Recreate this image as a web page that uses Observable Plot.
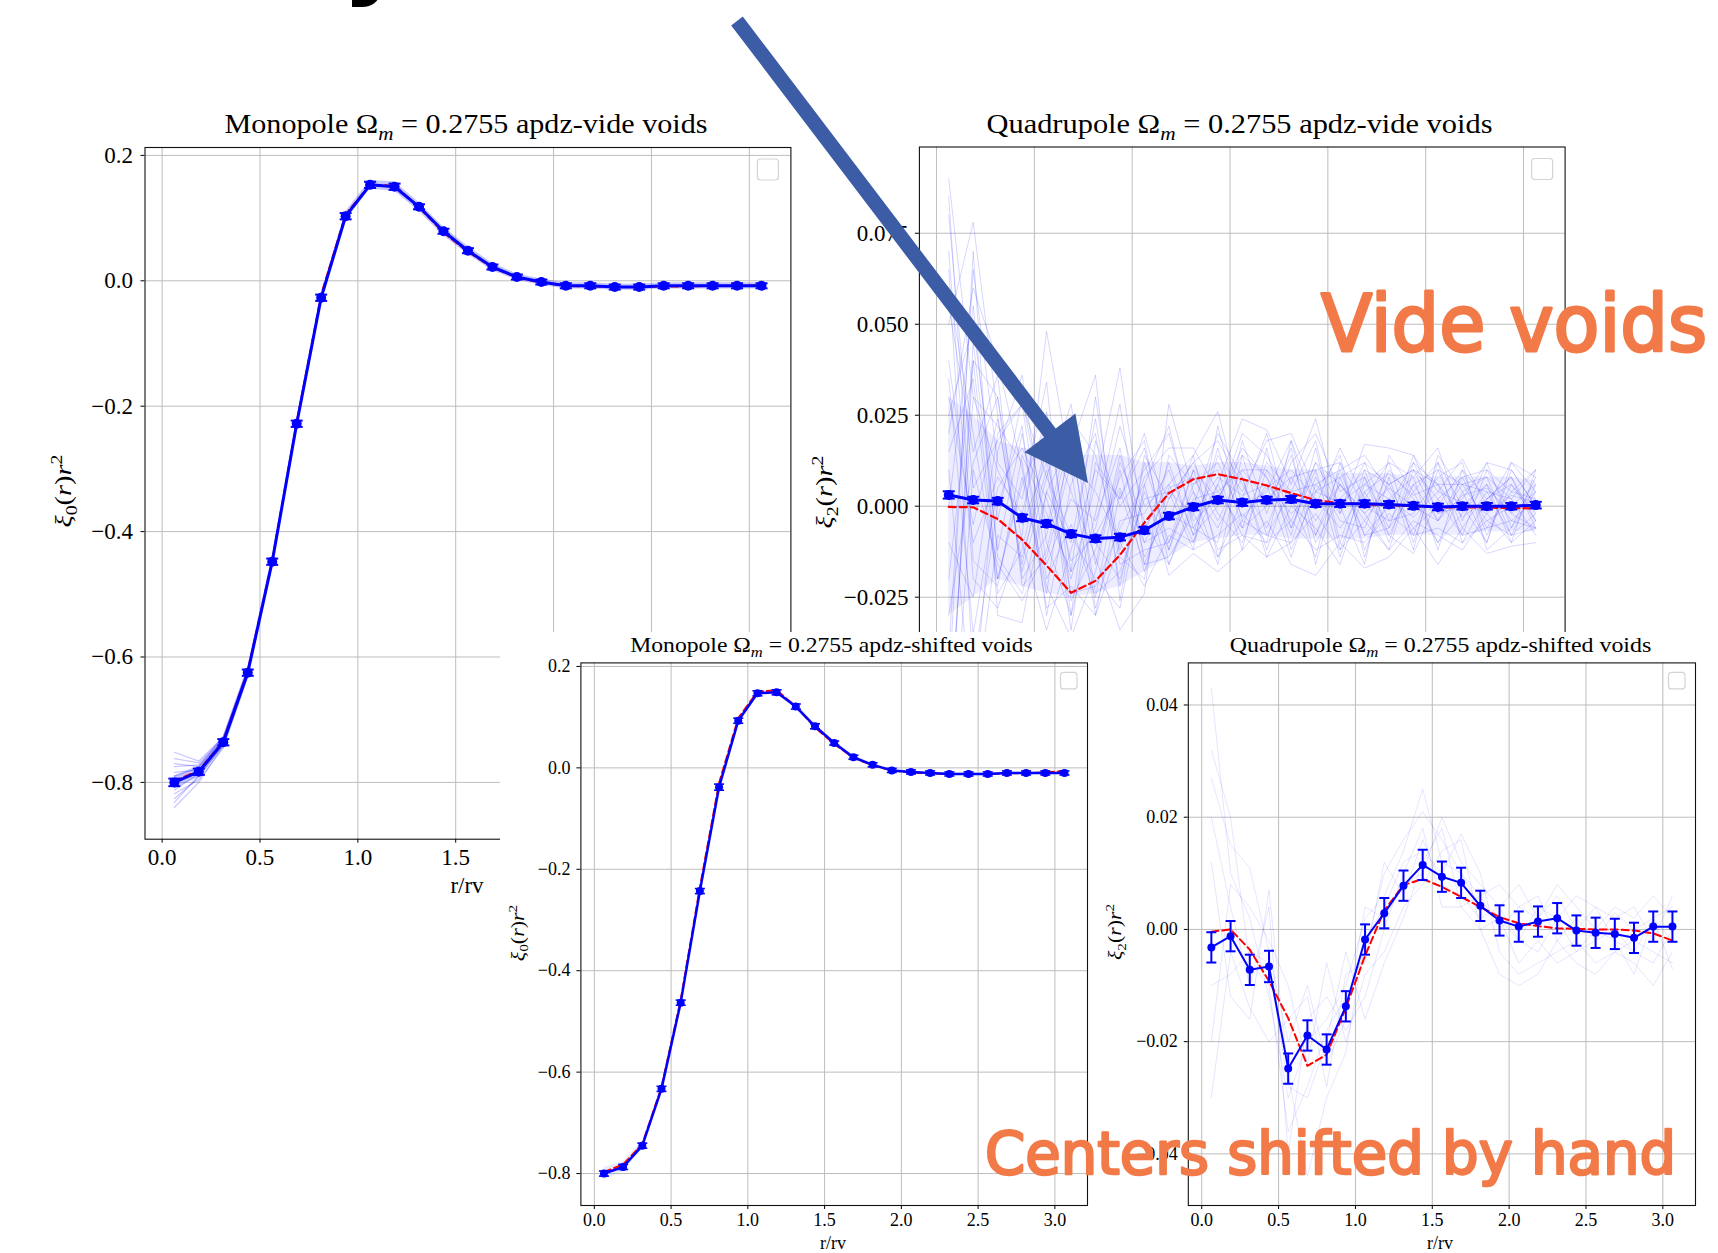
<!DOCTYPE html>
<html>
<head>
<meta charset="utf-8">
<script src="https://cdn.jsdelivr.net/npm/d3@7"></script>
<script src="https://cdn.jsdelivr.net/npm/@observablehq/plot@0.6"></script>
<style>
  html, body { margin: 0; padding: 0; background: #fff; }
  #page { position: relative; width: 1718px; height: 1253px; overflow: hidden; background: #fff; }
  .panel { position: absolute; background: #fff; }
  .panel svg { position: absolute; left: 0; top: 0; overflow: visible; }
  #overlay { position: absolute; left: 0; top: 0; pointer-events: none; }
</style>
</head>
<body>
<div id="page"></div>
<script>
// ---- radial bins (r / r_v) ----
const r = [0.0625, 0.1875, 0.3125, 0.4375, 0.5625, 0.6875, 0.8125, 0.9375, 1.0625, 1.1875,
           1.3125, 1.4375, 1.5625, 1.6875, 1.8125, 1.9375, 2.0625, 2.1875, 2.3125, 2.4375,
           2.5625, 2.6875, 2.8125, 2.9375, 3.0625];
const xTicks = [0, 0.5, 1.0, 1.5, 2.0, 2.5, 3.0];

// ---- monopole, vide voids ----
const monoVideMean = [-0.800, -0.783, -0.736, -0.625, -0.448, -0.228, -0.027, 0.103, 0.153, 0.150,
                      0.118, 0.079, 0.048, 0.022, 0.006, -0.002, -0.008, -0.008, -0.010, -0.010,
                      -0.008, -0.008, -0.008, -0.008, -0.008];
const monoVideErr = [0.006, 0.005, 0.005, 0.005, 0.005, 0.005, 0.005, 0.005, 0.005, 0.005,
                     0.004, 0.004, 0.004, 0.004, 0.004, 0.004, 0.004, 0.004, 0.004, 0.004,
                     0.004, 0.004, 0.004, 0.004, 0.004];
const monoVideModel = [-0.798, -0.781, -0.734, -0.622, -0.446, -0.226, -0.022, 0.106, 0.153, 0.152,
                       0.117, 0.077, 0.046, 0.021, 0.005, -0.003, -0.008, -0.009, -0.010, -0.010,
                       -0.009, -0.009, -0.008, -0.008, -0.007];
const monoVideLo = [-0.810, -0.792, -0.745, -0.634, -0.457, -0.235, -0.033, 0.096, 0.146, 0.143,
                    0.111, 0.072, 0.042, 0.016, 0.001, -0.007, -0.013, -0.013, -0.015, -0.015,
                    -0.013, -0.013, -0.013, -0.013, -0.013];
const monoVideHi = [-0.790, -0.774, -0.727, -0.615, -0.439, -0.221, -0.021, 0.110, 0.160, 0.158,
                    0.125, 0.086, 0.055, 0.028, 0.011, 0.003, -0.003, -0.003, -0.005, -0.005,
                    -0.003, -0.003, -0.003, -0.003, -0.003];
// individual mocks fan out only in the innermost bins
const monoVideMocksInner = [
  [-0.840, -0.800, -0.742, -0.630],
  [-0.826, -0.792, -0.740, -0.628],
  [-0.812, -0.786, -0.737, -0.626],
  [-0.800, -0.781, -0.735, -0.625],
  [-0.790, -0.777, -0.733, -0.624],
  [-0.775, -0.772, -0.730, -0.622],
  [-0.762, -0.769, -0.728, -0.620],
  [-0.752, -0.766, -0.727, -0.618],
  [-0.818, -0.796, -0.745, -0.632],
  [-0.770, -0.775, -0.731, -0.621],
  [-0.832, -0.789, -0.739, -0.627],
  [-0.784, -0.780, -0.734, -0.623]
];

// ---- quadrupole, vide voids ----
const quadVideMean = [0.0031, 0.0017, 0.0014, -0.0032, -0.0048, -0.0076, -0.0089, -0.0085, -0.0066, -0.0027,
                      -0.0002, 0.0017, 0.0010, 0.0017, 0.0019, 0.0007, 0.0007, 0.0007, 0.0005, 0.0001,
                      -0.0002, 0.0000, 0.0000, 0.0000, 0.0003];
const quadVideErr = [0.0010, 0.0009, 0.0009, 0.0009, 0.0009, 0.0009, 0.0009, 0.0009, 0.0009, 0.0009,
                     0.0009, 0.0009, 0.0009, 0.0009, 0.0009, 0.0009, 0.0009, 0.0009, 0.0009, 0.0009,
                     0.0009, 0.0009, 0.0009, 0.0009, 0.0009];
const quadVideModel = [-0.0002, -0.0003, -0.0035, -0.0092, -0.0163, -0.0238, -0.0205, -0.0134, -0.0045, 0.0036,
                       0.0074, 0.0088, 0.0074, 0.0057, 0.0036, 0.0017, 0.0008, 0.0005, 0.0003, 0.0000,
                       -0.0003, -0.0003, -0.0004, -0.0005, -0.0006];
const quadVideCoreLo = [-0.030, -0.025, -0.020, -0.022, -0.024, -0.025, -0.024, -0.022, -0.018, -0.014,
                        -0.010, -0.009, -0.008, -0.008, -0.009, -0.009, -0.009, -0.009, -0.008, -0.008,
                        -0.008, -0.008, -0.007, -0.007, -0.007];
const quadVideCoreHi = [0.030, 0.025, 0.018, 0.016, 0.015, 0.014, 0.014, 0.014, 0.012, 0.012,
                        0.011, 0.012, 0.012, 0.011, 0.010, 0.010, 0.009, 0.009, 0.009, 0.008,
                        0.008, 0.008, 0.008, 0.008, 0.007];
const quadVideMocks = [
  [0.090, 0.030, 0.010, -0.005, 0.012, -0.015, -0.008, 0.005, -0.010, 0.004, -0.002, 0.008, 0.003, 0.006, -0.002, 0.004, 0.001, 0.006, 0.002, -0.003, 0.004, 0.001, -0.002, 0.003, 0.001],
  [-0.070, 0.045, -0.012, 0.020, -0.020, -0.005, -0.025, 0.010, -0.018, 0.005, 0.008, -0.004, 0.010, 0.002, 0.008, -0.004, 0.006, -0.002, 0.005, 0.000, -0.004, 0.003, 0.005, -0.002, 0.004],
  [0.050, 0.078, 0.025, -0.018, 0.008, 0.028, -0.010, -0.020, 0.004, -0.012, 0.006, 0.012, -0.003, 0.005, 0.010, 0.002, -0.006, 0.004, 0.009, 0.003, 0.006, -0.003, 0.002, 0.006, -0.002],
  [-0.040, -0.055, 0.015, 0.036, -0.010, -0.030, 0.018, 0.000, 0.010, 0.020, -0.004, 0.002, 0.016, 0.008, -0.006, 0.010, 0.012, 0.000, -0.004, 0.006, 0.010, 0.006, -0.004, 0.000, 0.006],
  [0.070, -0.020, -0.028, -0.008, 0.048, 0.010, -0.030, -0.010, -0.022, -0.008, -0.012, -0.008, -0.002, -0.010, -0.004, -0.012, -0.008, -0.010, -0.002, -0.008, -0.006, -0.010, -0.004, -0.008, -0.006],
  [0.020, 0.060, 0.040, 0.010, -0.022, -0.036, -0.018, 0.012, -0.004, -0.016, 0.002, 0.004, -0.006, 0.012, 0.004, 0.006, -0.002, 0.012, 0.006, 0.010, 0.002, 0.008, 0.010, 0.004, 0.010],
  [-0.085, 0.010, -0.016, -0.026, -0.012, 0.016, 0.036, -0.026, 0.014, 0.002, 0.012, 0.018, 0.006, -0.006, 0.012, 0.020, 0.004, 0.008, -0.006, 0.004, 0.012, 0.000, 0.006, -0.004, 0.002],
  [0.035, -0.035, 0.005, 0.016, 0.002, -0.020, 0.006, 0.038, -0.008, 0.012, -0.008, 0.000, 0.020, 0.014, 0.002, -0.008, 0.010, 0.014, 0.004, -0.006, 0.000, 0.010, 0.002, 0.008, -0.004],
  [0.060, 0.020, -0.020, 0.006, 0.022, 0.004, -0.014, -0.034, -0.024, 0.028, 0.004, -0.006, 0.008, -0.014, -0.010, 0.008, -0.004, -0.006, 0.010, 0.002, -0.010, 0.004, 0.008, 0.002, -0.008],
  [-0.020, 0.040, 0.030, -0.010, -0.034, -0.012, 0.010, 0.002, 0.020, -0.004, 0.014, 0.026, 0.000, 0.004, 0.018, 0.000, 0.016, 0.002, 0.012, 0.008, 0.016, -0.004, 0.012, 0.010, 0.000],
  [0.010, -0.060, -0.008, -0.014, 0.010, -0.024, -0.022, -0.006, 0.006, -0.019, -0.013, -0.018, -0.012, -0.004, -0.016, -0.019, -0.010, -0.017, -0.014, -0.006, -0.016, -0.006, -0.013, -0.011, -0.010],
  [0.080, 0.005, 0.018, 0.028, -0.016, 0.002, -0.004, 0.016, -0.014, -0.002, -0.006, 0.006, 0.024, 0.021, 0.006, 0.024, -0.002, 0.017, 0.016, 0.014, 0.004, 0.013, 0.000, 0.012, 0.008],
  [-0.050, 0.070, -0.030, -0.032, 0.004, -0.010, 0.024, -0.016, -0.012, -0.010, 0.010, -0.012, -0.008, -0.014, 0.000, -0.006, -0.016, 0.004, -0.008, -0.013, 0.002, -0.008, -0.006, -0.004, -0.006],
  [0.040, -0.010, 0.008, -0.002, 0.026, -0.018, -0.006, 0.022, 0.000, 0.006, -0.010, 0.014, 0.004, 0.018, 0.020, 0.004, 0.008, -0.008, 0.000, 0.012, -0.002, 0.002, 0.012, -0.006, 0.004],
  [-0.060, 0.030, 0.022, 0.012, -0.028, -0.022, -0.030, 0.004, -0.016, -0.014, -0.002, -0.014, -0.004, -0.008, -0.010, -0.002, -0.012, -0.004, -0.012, -0.004, -0.008, -0.012, -0.002, -0.010, -0.004],
  [0.025, 0.050, -0.004, 0.030, -0.006, 0.024, 0.014, -0.012, 0.008, 0.016, 0.016, 0.004, 0.010, 0.010, -0.004, 0.012, 0.006, -0.004, 0.006, 0.010, 0.006, 0.006, 0.004, 0.002, 0.010],
  [-0.030, 0.012, 0.030, -0.020, -0.008, 0.020, -0.028, -0.004, -0.002, 0.010, -0.008, 0.016, -0.006, 0.000, 0.014, -0.010, 0.002, 0.010, -0.008, 0.006, -0.004, 0.008, -0.006, 0.004, 0.002],
  [0.065, -0.045, 0.000, 0.022, -0.030, 0.006, 0.020, -0.022, 0.012, -0.010, 0.004, -0.016, 0.014, 0.008, -0.008, 0.016, -0.012, 0.006, 0.012, -0.010, 0.010, -0.006, 0.004, -0.008, 0.006],
  [0.015, 0.035, -0.024, -0.012, 0.018, -0.030, -0.002, 0.028, -0.016, 0.002, 0.012, -0.002, -0.010, 0.010, 0.002, -0.014, 0.012, -0.012, 0.002, 0.008, -0.012, 0.010, -0.008, 0.006, -0.004],
  [-0.040, 0.065, 0.012, 0.002, 0.034, -0.026, -0.012, 0.008, 0.018, -0.016, 0.000, 0.020, 0.008, -0.012, 0.008, 0.010, -0.014, 0.008, -0.010, 0.012, 0.006, -0.008, 0.010, -0.002, -0.006],
  [0.085, -0.015, -0.022, 0.014, -0.002, -0.018, 0.030, -0.014, -0.020, 0.014, 0.006, 0.010, -0.012, 0.016, -0.012, 0.004, 0.014, -0.014, 0.008, -0.012, 0.014, 0.004, -0.010, 0.010, 0.000],
  [-0.010, -0.025, 0.020, 0.028, 0.008, -0.008, -0.020, -0.028, 0.006, 0.022, -0.006, -0.010, 0.018, -0.002, 0.016, -0.016, 0.008, 0.012, -0.004, -0.002, 0.008, 0.012, -0.012, -0.006, 0.008],
  [0.055, 0.015, 0.036, -0.022, -0.014, 0.012, 0.004, -0.010, -0.006, 0.006, 0.014, -0.014, 0.002, 0.020, -0.006, 0.012, 0.000, -0.016, 0.014, 0.004, -0.010, -0.002, 0.006, -0.010, 0.010],
  [-0.065, 0.040, -0.020, 0.008, -0.024, 0.022, -0.016, 0.014, -0.010, -0.006, -0.010, 0.006, -0.008, -0.010, 0.018, -0.008, 0.006, -0.002, -0.012, 0.010, -0.004, 0.006, 0.008, -0.008, -0.002],
  [0.030, -0.005, 0.024, -0.016, 0.016, -0.034, 0.012, 0.002, 0.016, -0.012, 0.010, 0.002, 0.014, -0.008, 0.004, 0.018, -0.010, 0.010, 0.006, -0.008, 0.012, -0.010, 0.002, 0.008, -0.006],
  [0.000, 0.055, -0.014, -0.024, 0.004, 0.018, -0.024, -0.018, 0.002, 0.004, -0.012, 0.022, -0.004, 0.006, -0.014, 0.006, 0.010, -0.008, -0.006, 0.014, -0.002, 0.000, -0.010, 0.012, 0.004]
];

// ---- monopole, shifted voids ----
const monoShiftMean = [-0.800, -0.787, -0.745, -0.633, -0.463, -0.243, -0.038, 0.093, 0.147, 0.149,
                       0.121, 0.082, 0.049, 0.021, 0.006, -0.005, -0.008, -0.010, -0.012, -0.012,
                       -0.012, -0.010, -0.010, -0.010, -0.010];
const monoShiftErr = [0.005, 0.005, 0.005, 0.005, 0.005, 0.005, 0.006, 0.005, 0.005, 0.005,
                      0.005, 0.005, 0.004, 0.004, 0.004, 0.004, 0.004, 0.004, 0.004, 0.004,
                      0.004, 0.004, 0.004, 0.004, 0.004];
const monoShiftModel = [-0.797, -0.782, -0.742, -0.630, -0.458, -0.236, -0.030, 0.098, 0.150, 0.153,
                        0.121, 0.080, 0.047, 0.020, 0.005, -0.005, -0.009, -0.011, -0.012, -0.012,
                        -0.012, -0.011, -0.010, -0.009, -0.006];
const monoShiftLo = [-0.812, -0.797, -0.753, -0.641, -0.470, -0.250, -0.045, 0.087, 0.142, 0.144,
                     0.116, 0.077, 0.045, 0.017, 0.002, -0.008, -0.011, -0.013, -0.015, -0.015,
                     -0.015, -0.013, -0.013, -0.013, -0.013];
const monoShiftHi = [-0.788, -0.776, -0.736, -0.626, -0.456, -0.236, -0.031, 0.099, 0.152, 0.155,
                     0.127, 0.087, 0.054, 0.026, 0.009, -0.002, -0.005, -0.008, -0.009, -0.009,
                     -0.009, -0.008, -0.008, -0.008, -0.008];

// ---- quadrupole, shifted voids ----
const quadShiftMean = [-0.0032, -0.0012, -0.0072, -0.0066, -0.0248, -0.0189, -0.0214, -0.0137, -0.0018, 0.0029,
                       0.0078, 0.0115, 0.0094, 0.0083, 0.0042, 0.0016, 0.0005, 0.0014, 0.0020, -0.0002,
                       -0.0006, -0.0008, -0.0015, 0.0005, 0.0005];
const quadShiftErr = [0.0027, 0.0027, 0.0027, 0.0028, 0.0027, 0.0027, 0.0027, 0.0027, 0.0027, 0.0027,
                      0.0027, 0.0027, 0.0027, 0.0027, 0.0027, 0.0027, 0.0027, 0.0027, 0.0027, 0.0027,
                      0.0027, 0.0027, 0.0027, 0.0027, 0.0027];
const quadShiftModel = [-0.0004, 0.0000, -0.0036, -0.0092, -0.0158, -0.0243, -0.0223, -0.0140, -0.0047, 0.0034,
                        0.0079, 0.0090, 0.0076, 0.0058, 0.0040, 0.0022, 0.0011, 0.0006, 0.0002, 0.0001,
                        0.0000, 0.0000, -0.0002, -0.0007, -0.0020];
const quadShiftMocks = [
  [0.043, 0.010, 0.002, -0.012, -0.030, -0.020, -0.016, -0.010, 0.002, 0.006, 0.014, 0.025, 0.012, 0.010, 0.004, 0.002, -0.002, 0.004, 0.002, -0.004, 0.000, -0.002, -0.004, 0.002, 0.004],
  [0.032, 0.020, -0.006, -0.010, -0.036, -0.028, -0.018, -0.012, -0.004, 0.010, 0.016, 0.021, 0.016, 0.010, 0.006, 0.000, 0.004, 0.006, -0.002, 0.002, -0.002, 0.003, 0.000, 0.002, -0.002],
  [0.027, 0.015, 0.011, -0.004, -0.020, -0.010, -0.024, -0.016, 0.004, 0.002, 0.008, 0.010, 0.020, 0.012, 0.008, 0.004, 0.008, 0.002, 0.006, 0.000, 0.004, 0.002, 0.004, -0.002, 0.006],
  [0.012, -0.012, -0.016, 0.007, -0.026, -0.044, -0.030, -0.022, -0.002, 0.004, 0.012, 0.014, 0.010, 0.017, 0.010, -0.004, -0.008, -0.006, -0.004, -0.002, -0.006, -0.004, -0.002, -0.004, -0.006],
  [-0.030, -0.004, -0.014, -0.020, -0.016, -0.012, -0.028, -0.008, -0.006, 0.012, 0.006, 0.016, 0.008, 0.006, 0.002, 0.004, -0.002, -0.004, 0.002, 0.006, 0.004, -0.002, -0.008, 0.002, -0.007],
  [-0.020, 0.008, 0.004, -0.002, -0.010, -0.024, -0.006, -0.020, -0.008, -0.004, 0.004, 0.008, 0.014, 0.016, 0.000, -0.008, -0.010, -0.008, -0.002, -0.006, -0.008, -0.004, -0.006, -0.010, -0.004],
  [0.020, 0.004, -0.010, 0.004, -0.040, -0.016, -0.012, -0.018, -0.012, 0.000, 0.010, 0.018, 0.004, 0.004, 0.006, 0.008, 0.004, 0.002, 0.008, 0.004, 0.000, 0.004, 0.002, 0.006, 0.002],
  [-0.010, -0.008, -0.004, -0.006, -0.028, -0.030, -0.020, -0.004, -0.016, -0.006, 0.002, 0.012, 0.018, 0.004, 0.000, 0.002, -0.006, -0.002, -0.006, -0.004, -0.002, 0.000, -0.004, -0.006, 0.000]
];

// ---- styling ----
const SERIF = "'Liberation Serif', 'DejaVu Serif', serif";
const BLUE = "#0000ff", RED = "#ff0000", GRID = "#bdbdbd";
const xDomain = [-0.0875, 3.2125];

// horizontal tick used as an error-bar cap
const capSymbol = {
  draw(context, size) {
    const w = Math.sqrt(size / Math.PI);
    context.moveTo(-w, 0);
    context.lineTo(w, 0);
  }
};

const pointRows = (ys, errs) => r.map((x, i) => ({x, y: ys[i], e: errs ? errs[i] : 0}));
const bandRows = (lo, hi) => r.map((x, i) => ({x, lo: lo[i], hi: hi[i]}));
const mockRows = (mocks) => mocks.flatMap((m, j) => m.map((y, i) => ({x: r[i], y, mock: j})));

function meanMarks(rows, {lw, rad, cap, ew}) {
  return [
    Plot.line(rows, {x: "x", y: "y", stroke: BLUE, strokeWidth: lw}),
    Plot.ruleX(rows, {x: "x", y1: d => d.y - d.e, y2: d => d.y + d.e, stroke: BLUE, strokeWidth: ew}),
    Plot.dot(rows, {x: "x", y: d => d.y - d.e, symbol: capSymbol, r: cap, stroke: BLUE, strokeWidth: ew, fill: "none"}),
    Plot.dot(rows, {x: "x", y: d => d.y + d.e, symbol: capSymbol, r: cap, stroke: BLUE, strokeWidth: ew, fill: "none"}),
    Plot.dot(rows, {x: "x", y: "y", r: rad, fill: BLUE, stroke: "none"})
  ];
}
const modelMark = (ys, w) => Plot.line(pointRows(ys), {x: "x", y: "y", stroke: RED, strokeWidth: w, strokeDasharray: "7,4"});

// text with italic pieces and sub/superscripts
function richText(parent, {x, y, size, len, rotate = false, anchor = "middle", parts, family = SERIF, fill = "#000"}) {
  const t = d3.select(parent).append("text")
    .attr("text-anchor", anchor)
    .attr("font-family", family)
    .attr("font-size", size)
    .attr("fill", fill);
  if (rotate) t.attr("transform", `translate(${x},${y}) rotate(-90)`);
  else t.attr("x", x).attr("y", y);
  if (len) t.attr("textLength", len).attr("lengthAdjust", "spacingAndGlyphs");
  let shift = 0;
  for (const p of parts) {
    const s = t.append("tspan").text(p.t);
    if (p.i) s.attr("font-style", "italic");
    const target = p.sub ? 0.25 * size : p.sup ? -0.38 * size : 0;
    if (target !== shift) { s.attr("dy", target - shift); shift = target; }
    if (p.sub || p.sup) s.attr("font-size", size * 0.7);
  }
  return t;
}

function buildPanel(cfg) {
  const [bx, by, bw, bh] = cfg.box;
  const [fl, fr, ft, fb] = cfg.frame;
  const div = document.createElement("div");
  div.className = "panel";
  Object.assign(div.style, {left: bx + "px", top: by + "px", width: bw + "px", height: bh + "px"});
  const svg = Plot.plot({
    width: bw, height: bh,
    marginLeft: fl - bx, marginRight: bx + bw - fr,
    marginTop: ft - by, marginBottom: by + bh - fb,
    style: {fontFamily: SERIF, fontSize: cfg.fs + "px", background: "transparent", color: "#000", overflow: "visible"},
    x: {domain: xDomain, ticks: xTicks, tickFormat: d3.format(".1f"), tickSize: 4, tickPadding: cfg.xPad, label: null},
    y: {domain: cfg.yDomain, ticks: cfg.yTicks, tickFormat: d3.format(cfg.yFmt), tickSize: 4, tickPadding: cfg.yPad, label: null},
    marks: [
      Plot.gridX(xTicks, {stroke: GRID, strokeOpacity: 1, strokeWidth: 1}),
      Plot.gridY(cfg.yTicks, {stroke: GRID, strokeOpacity: 1, strokeWidth: 1}),
      ...cfg.marks,
      Plot.frame({stroke: "#111", strokeWidth: 1.1})
    ]
  });
  // empty legend box in the upper right corner
  d3.select(svg).append("rect")
    .attr("x", fr - bx - cfg.legend[0] - cfg.legend[1])
    .attr("y", ft - by + cfg.legend[0])
    .attr("width", cfg.legend[1]).attr("height", cfg.legend[1])
    .attr("rx", 3).attr("fill", "#fff").attr("stroke", "#d4d4d4").attr("stroke-width", 1.2);
  // title
  richText(svg, {x: cfg.title.x - bx, y: cfg.title.y - by, size: cfg.title.size, len: cfg.title.len, parts: [
    {t: cfg.title.kind + " Ω"}, {t: "m", i: true, sub: true}, {t: " = 0.2755 " + cfg.title.tail}
  ]});
  // y label
  richText(svg, {x: cfg.ylab.x - bx + 0.3 * cfg.fs, y: cfg.ylab.y - by, size: cfg.fs, len: cfg.ylab.len, rotate: true, parts: [
    {t: "ξ", i: true}, {t: cfg.ylab.l, sub: true}, {t: "("}, {t: "r", i: true}, {t: ")"}, {t: "r", i: true}, {t: "2", sup: true}
  ]});
  // x label
  richText(svg, {x: cfg.xlab.x - bx, y: cfg.xlab.y - by, size: cfg.fs, parts: [{t: "r/rv"}]});
  div.appendChild(svg);
  return div;
}

const page = document.getElementById("page");

// Monopole, vide voids
page.appendChild(buildPanel({
  box: [0, 90, 800, 820], frame: [144.5, 790.4, 147, 838.7],
  yDomain: [-0.8906, 0.2126], yTicks: [-0.8, -0.6, -0.4, -0.2, 0, 0.2], yFmt: ".1f",
  fs: 23, xPad: 5, yPad: 8, legend: [12, 21],
  title: {x: 466, y: 133, size: 27, len: 483, kind: "Monopole", tail: "apdz-vide voids"},
  ylab: {x: 64, y: 491, len: 73, l: "0"},
  xlab: {x: 467, y: 893},
  marks: [
    Plot.areaY(bandRows(monoVideLo, monoVideHi), {x: "x", y1: "lo", y2: "hi", fill: BLUE, fillOpacity: 0.22}),
    Plot.line(monoVideMocksInner.flatMap((m, j) => m.map((y, i) => ({x: r[i], y, mock: j}))),
      {x: "x", y: "y", z: "mock", stroke: BLUE, strokeOpacity: 0.22, strokeWidth: 1.2}),
    modelMark(monoVideModel, 2),
    ...meanMarks(pointRows(monoVideMean, monoVideErr), {lw: 3, rad: 5, cap: 6, ew: 2})
  ]
}));

// Quadrupole, vide voids
page.appendChild(buildPanel({
  box: [800, 90, 800, 820], frame: [918.9, 1564.6, 146.5, 838],
  yDomain: [-0.0913, 0.0987], yTicks: [-0.075, -0.05, -0.025, 0, 0.025, 0.05, 0.075], yFmt: ".3f",
  fs: 23, xPad: 5, yPad: 7, legend: [12, 21],
  title: {x: 1239.5, y: 133, size: 27, len: 506, kind: "Quadrupole", tail: "apdz-vide voids"},
  ylab: {x: 825, y: 492, len: 73, l: "2"},
  xlab: {x: 1241.8, y: 893},
  marks: [
    Plot.areaY(bandRows(quadVideCoreLo, quadVideCoreHi), {x: "x", y1: "lo", y2: "hi", fill: BLUE, fillOpacity: 0.07, clip: true}),
    Plot.line(mockRows(quadVideMocks), {x: "x", y: "y", z: "mock", stroke: BLUE, strokeOpacity: 0.16, strokeWidth: 1, clip: true}),
    modelMark(quadVideModel, 2.2),
    ...meanMarks(pointRows(quadVideMean, quadVideErr), {lw: 3, rad: 5, cap: 6, ew: 2})
  ]
}));

// Monopole, shifted voids
page.appendChild(buildPanel({
  box: [500, 632, 595, 621], frame: [580.4, 1087, 662.4, 1205],
  yDomain: [-0.863, 0.207], yTicks: [-0.8, -0.6, -0.4, -0.2, 0, 0.2], yFmt: ".1f",
  fs: 18, xPad: 4, yPad: 6.5, legend: [10, 16.5],
  title: {x: 831.5, y: 651.5, size: 21.5, len: 402.5, kind: "Monopole", tail: "apdz-shifted voids"},
  ylab: {x: 518.5, y: 933, len: 56.5, l: "0"},
  xlab: {x: 833, y: 1249},
  marks: [
    Plot.areaY(bandRows(monoShiftLo, monoShiftHi), {x: "x", y1: "lo", y2: "hi", fill: BLUE, fillOpacity: 0.08}),
    modelMark(monoShiftModel, 2),
    ...meanMarks(pointRows(monoShiftMean, monoShiftErr), {lw: 2.5, rad: 4, cap: 5, ew: 1.6})
  ]
}));

// Quadrupole, shifted voids
page.appendChild(buildPanel({
  box: [1095, 632, 623, 621], frame: [1187.8, 1695, 662.4, 1205],
  yDomain: [-0.0492, 0.0475], yTicks: [-0.04, -0.02, 0, 0.02, 0.04], yFmt: ".2f",
  fs: 18, xPad: 4, yPad: 6.5, legend: [10, 16.5],
  title: {x: 1440.5, y: 651.5, size: 21.5, len: 421.5, kind: "Quadrupole", tail: "apdz-shifted voids"},
  ylab: {x: 1115.6, y: 932, len: 56, l: "2"},
  xlab: {x: 1440, y: 1249},
  marks: [
    Plot.line(mockRows(quadShiftMocks), {x: "x", y: "y", z: "mock", stroke: BLUE, strokeOpacity: 0.1, strokeWidth: 1, clip: true}),
    modelMark(quadShiftModel, 2),
    ...meanMarks(pointRows(quadShiftMean, quadShiftErr), {lw: 2, rad: 4, cap: 5, ew: 2})
  ]
}));

// ---- annotations on top of the panels ----
const ORANGE = "#f27a48", ARROW = "#3c5ca5";
const overlay = d3.select(page).append("svg")
  .attr("id", "overlay").attr("width", 1718).attr("height", 1253);

// tail of a large heading running off the top edge
overlay.append("text").attr("x", 342).attr("y", -15)
  .attr("font-family", "'DejaVu Sans', sans-serif").attr("font-weight", "bold")
  .attr("font-size", 100).attr("fill", "#000").text("y");

// arrow pointing at the quadrupole dip
{
  const from = [737, 21], to = [1088, 483];
  const shaftHalf = 7.3, headLen = 63, headHalf = 32;
  const dx = to[0] - from[0], dy = to[1] - from[1], L = Math.hypot(dx, dy);
  const ux = dx / L, uy = dy / L, px = -uy, py = ux;
  const bx = to[0] - ux * headLen, by = to[1] - uy * headLen;
  const pts = [
    [from[0] + px * shaftHalf, from[1] + py * shaftHalf],
    [bx + px * shaftHalf, by + py * shaftHalf],
    [bx + px * headHalf, by + py * headHalf],
    to,
    [bx - px * headHalf, by - py * headHalf],
    [bx - px * shaftHalf, by - py * shaftHalf],
    [from[0] - px * shaftHalf, from[1] - py * shaftHalf]
  ];
  overlay.append("polygon").attr("points", pts.map(p => p.join(",")).join(" ")).attr("fill", ARROW);
}

const HAND = "'DejaVu Sans', 'Noto Sans', sans-serif";
overlay.append("text").attr("x", 1321).attr("y", 351)
  .attr("font-family", HAND).attr("font-size", 78)
  .attr("fill", ORANGE).attr("stroke", ORANGE).attr("stroke-width", 3).attr("stroke-linejoin", "round")
  .attr("textLength", 386).attr("lengthAdjust", "spacingAndGlyphs")
  .text("Vide voids");
overlay.append("text").attr("x", 985).attr("y", 1174)
  .attr("font-family", HAND).attr("font-size", 58)
  .attr("fill", ORANGE).attr("stroke", ORANGE).attr("stroke-width", 2.5).attr("stroke-linejoin", "round")
  .attr("textLength", 691).attr("lengthAdjust", "spacingAndGlyphs")
  .text("Centers shifted by hand");
</script>
</body>
</html>
